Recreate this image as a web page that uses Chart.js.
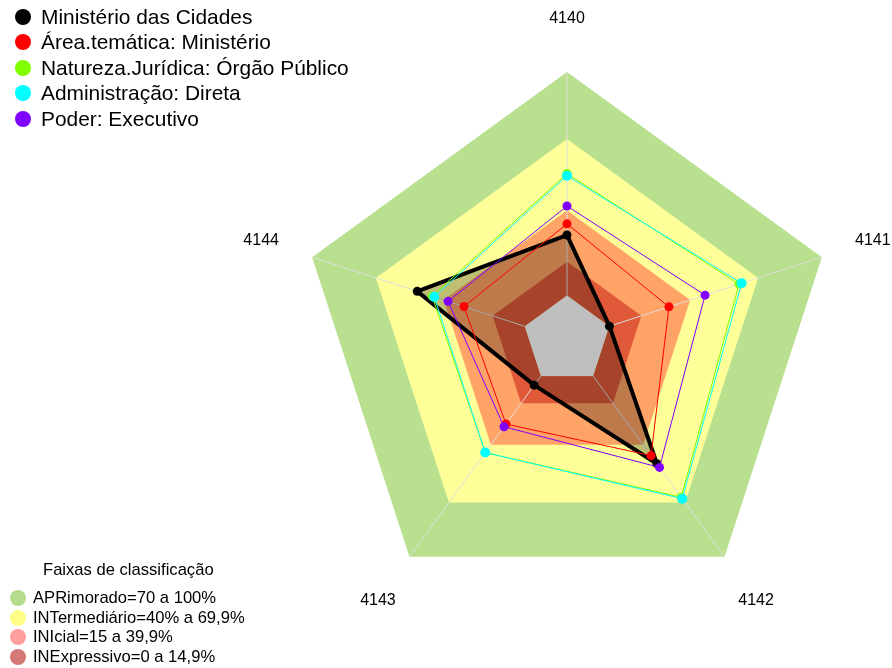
<!DOCTYPE html>
<html>
<head>
<meta charset="utf-8">
<script src="https://cdn.jsdelivr.net/npm/chart.js@4.4.0/dist/chart.umd.min.js"></script>
<style>
  body { margin: 0; background: #fff; font-family: Arial, "Liberation Sans", sans-serif; }
  #wrap { position: relative; width: 892px; height: 668px; overflow: hidden; }
  #radar { position: absolute; left: 0; top: 0; }
  .row { position: absolute; white-space: nowrap; color: #000; }
  .dot { position: absolute; border-radius: 50%; }
</style>
</head>
<body>
<div id="wrap">
  <canvas id="radar" width="892" height="668"></canvas>
  <div id="legendTop"></div>
  <div id="legendBands"></div>
</div>
<script>
// --- chart data ---
const axisLabels = ['4140', '4141', '4142', '4143', '4144'];

const seriesNames = ['Ministério das Cidades', 'Área.temática: Ministério', 'Natureza.Jurídica: Órgão Público', 'Administração: Direta', 'Poder: Executivo'];
const seriesColors = ['#000000', '#ff0000', '#80ff00', '#00ffff', '#8000ff'];

const cidades = [27, 0, 48.5, 5, 50.5];
const areaTematica = [32, 28, 44, 26.5, 28.5];
const naturezaJuridica = [54.5, 61, 67, 42.3, 43.5];
const administracao = [53.6, 62.2, 67.8, 42.3, 42.5];
const poder = [40, 45, 50.5, 28, 36];

const bandNames = ['APRimorado=70 a 100%', 'INTermediário=40% a 69,9%', 'INIcial=15 a 39,9%', 'INExpressivo=0 a 14,9%'];
const bandLimits = [100, 70, 38, 15];
const bandColors = ['#b9e08f', '#ffff99', '#ffa366', '#e05a3a'];
const bandLegendColors = ['#b5dc8c', '#ffff88', '#ff9e9e', '#d47878'];

const scaleMin = -20;
const scaleMax = 100;

// --- datasets ---
const seriesData = [cidades, areaTematica, naturezaJuridica, administracao, poder];

const seriesSets = seriesData.map((vals, i) => ({
  label: seriesNames[i],
  data: vals,
  borderColor: seriesColors[i],
  backgroundColor: i === 0 ? 'rgba(0,0,0,0.25)' : 'transparent',
  fill: i === 0 ? 'start' : false,
  borderWidth: i === 0 ? 4 : 1,
  pointRadius: i === 3 ? 5 : 4.5,
  pointBackgroundColor: seriesColors[i],
  pointBorderWidth: 0,
  order: 9 - i
}));

const bandSets = bandLimits.map((lim, i) => ({
  label: bandNames[i],
  data: axisLabels.map(() => lim),
  borderColor: 'transparent',
  borderWidth: 1,
  backgroundColor: bandColors[i],
  fill: 'origin',
  pointRadius: 0,
  order: 23 - i
}));

// light spokes on top of the bands, from the 0 ring to the outer ring
const spokes = {
  id: 'spokes',
  afterDatasetDraw(chart, args) {
    if (args.index !== seriesSets.length + bandSets.length - 1) return;
    const r = chart.scales.r;
    const c = chart.ctx;
    c.save();
    c.strokeStyle = '#dedede';
    c.lineWidth = 1;
    axisLabels.forEach((_, i) => {
      const a = r.getPointPositionForValue(i, 0);
      const b = r.getPointPositionForValue(i, scaleMax);
      c.beginPath();
      c.moveTo(a.x, a.y);
      c.lineTo(b.x, b.y);
      c.stroke();
    });
    c.restore();
  }
};

// axis names, centred outside the outer ring
const axisNames = {
  id: 'axisNames',
  afterDraw(chart) {
    const r = chart.scales.r;
    const c = chart.ctx;
    c.save();
    c.fillStyle = '#000';
    c.font = '16px Arial, "Liberation Sans", sans-serif';
    c.textAlign = 'center';
    c.textBaseline = 'middle';
    axisLabels.forEach((lab, i) => {
      const p = r.getPointPosition(i, r.drawingArea * 1.2);
      c.fillText(lab, p.x, p.y);
    });
    c.restore();
  }
};

new Chart(document.getElementById('radar'), {
  type: 'radar',
  data: { labels: axisLabels, datasets: [...seriesSets, ...bandSets] },
  options: {
    responsive: false,
    animation: false,
    devicePixelRatio: 1,
    layout: { padding: { left: 299, right: 57, top: 72, bottom: 60 } },
    elements: { line: { tension: 0, borderJoinStyle: 'round' } },
    plugins: { legend: { display: false }, tooltip: { enabled: false } },
    scales: {
      r: {
        min: scaleMin,
        max: scaleMax,
        ticks: { display: false },
        grid: { display: false },
        angleLines: { display: false },
        pointLabels: { display: false }
      }
    }
  },
  plugins: [spokes, axisNames]
});

// --- legends (html text) ---
const legendTop = document.getElementById('legendTop');
seriesNames.forEach((name, i) => {
  const y = 17 + i * 25.4;
  legendTop.innerHTML += `
    <div class="dot" style="left:15px;top:${y - 8}px;width:16px;height:16px;background:${seriesColors[i]}"></div>
    <div class="row" style="left:41px;top:${y - 12}px;font-size:20.9px;line-height:24px">${name}</div>`;
});

const legendBands = document.getElementById('legendBands');
legendBands.innerHTML = `<div class="row" style="left:43px;top:560px;font-size:16.6px;line-height:20px">Faixas de classificação</div>`;
bandNames.forEach((name, i) => {
  const y = 598 + i * 19.6;
  legendBands.innerHTML += `
    <div class="dot" style="left:10px;top:${y - 8}px;width:16px;height:16px;background:${bandLegendColors[i]}"></div>
    <div class="row" style="left:33px;top:${y - 10}px;font-size:16.6px;line-height:20px">${name}</div>`;
});
</script>
</body>
</html>
